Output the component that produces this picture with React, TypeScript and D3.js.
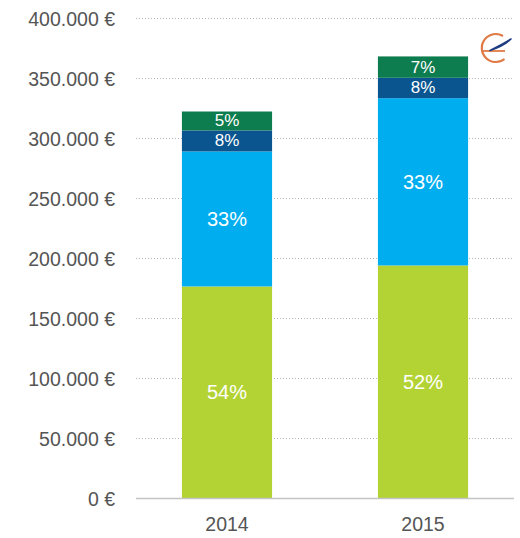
import React from "react";
import * as d3 from "d3";

const years = ["2014", "2015"];
const seriesNames = ["s1", "s2", "s3", "s4"];
const s1 = [176700, 194200];
const s2 = [112500, 139400];
const s3 = [17500, 17000];
const s4 = [15800, 17800];
const pctS1 = ["54%", "52%"];
const pctS2 = ["33%", "33%"];
const pctS3 = ["8%", "8%"];
const pctS4 = ["5%", "7%"];
const yTicks = [0, 50000, 100000, 150000, 200000, 250000, 300000, 350000, 400000];
const colors = ["#b3d335", "#00aeef", "#0a5590", "#0d7c4e"];

const W = 520;
const H = 538;

export default function App() {
  const x = d3.scaleBand<string>().domain(years).range([129, 521]).paddingInner(0.54).paddingOuter(0.27);
  const y = d3.scaleLinear().domain([0, 400000]).range([498.5, 18.5]);
  const rows = years.map((yr, i) => ({ year: yr, s1: s1[i], s2: s2[i], s3: s3[i], s4: s4[i] }));
  const stack = d3.stack<any>().keys(seriesNames)(rows);
  const pcts = [pctS1, pctS2, pctS3, pctS4];
  const fmt = (v: number) => (v === 0 ? "0 €" : d3.format(",")(v).replace(/,/g, ".") + " €");
  const font = "'Liberation Sans', Arial, Helvetica, sans-serif";

  return (
    <svg width={W} height={H} style={{ position: "absolute", left: 0, top: 0 }} fontFamily={font}>
      {yTicks.map((t) => (
        <g key={t}>
          {t !== 0 && (
            <line x1={136} x2={514} y1={y(t)} y2={y(t)} stroke="#b5b5b5" strokeWidth={1} strokeDasharray="1,2" />
          )}
          <text x={115} y={y(t)} textAnchor="end" dominantBaseline="central" fontSize={19.5} fill="#555555">
            {fmt(t)}
          </text>
        </g>
      ))}
      {stack.map((layer, li) => (
        <g key={li}>
          {layer.map((d, i) => (
            <rect key={i} x={x(years[i])} width={x.bandwidth()} y={y(d[1])} height={y(d[0]) - y(d[1])} fill={colors[li]} />
          ))}
        </g>
      ))}
      <line x1={136} x2={514} y1={y(0)} y2={y(0)} stroke="#c4c4c4" strokeWidth={1.5} />
      {stack.map((layer, li) => (
        <g key={"l" + li}>
          {layer.map((d, i) => (
            <text
              key={i}
              x={(x(years[i]) as number) + x.bandwidth() / 2}
              y={y((d[0] + d[1]) / 2)}
              textAnchor="middle"
              dominantBaseline="central"
              fontSize={li >= 2 ? 17 : 20}
              fill="#ffffff"
            >
              {pcts[li][i]}
            </text>
          ))}
        </g>
      ))}
      {years.map((yr) => (
        <text key={yr} x={(x(yr) as number) + x.bandwidth() / 2} y={524} textAnchor="middle" dominantBaseline="central" fontSize={19.5} fill="#555555">
          {yr}
        </text>
      ))}
      <g transform="translate(495,48)">
        <path d="M 8 -12 A 14 14 0 1 0 9.5 11" fill="none" stroke="#e07a45" strokeWidth={2.2} />
        <path d="M -14 3 L 10 3" fill="none" stroke="#e07a45" strokeWidth={1.8} />
        <path d="M -5 2.5 Q 6 -3 16 -9 Q 9 -2 -5 2.5 Z" fill="#1d3c82" stroke="#1d3c82" strokeWidth={1.6} strokeLinejoin="round" />
      </g>
    </svg>
  );
}
